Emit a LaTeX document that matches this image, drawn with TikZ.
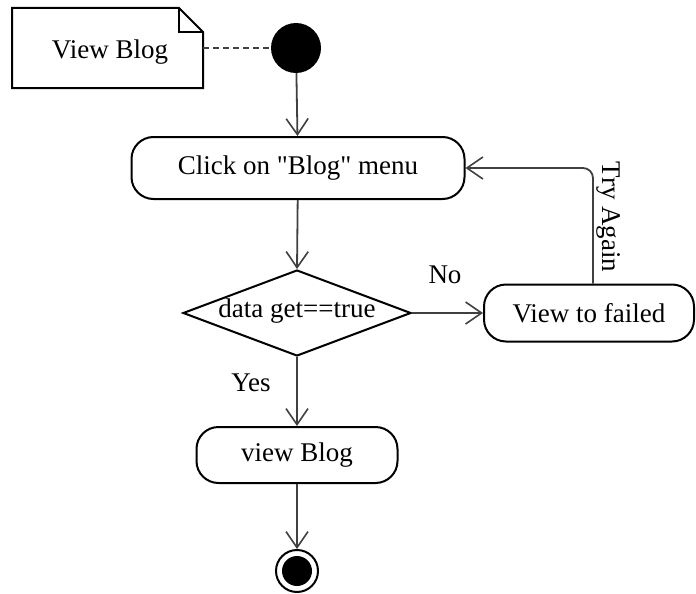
\documentclass[tikz,border=0pt]{standalone}
\usepackage{fontspec}
\setmainfont{Liberation Serif}
\usetikzlibrary{arrows.meta,shapes.geometric}
\begin{document}
\begin{tikzpicture}[x=1pt,y=-1pt,
  every node/.style={font=\fontsize{27}{32}\selectfont},
  act/.style={draw=black,line width=2pt,rounded corners=22pt,inner sep=0pt},
  flow/.style={draw=black!75,line width=1.8pt,-{Straight Barb[length=16pt,width=22pt,line width=1.6pt]}},
  lbl/.style={inner sep=0pt}]
\useasboundingbox (0,0) rectangle (696,594);
% note
\draw[line width=2pt] (12,8) -- (179,8) -- (203,32) -- (203,88) -- (12,88) -- cycle;
\draw[line width=1.5pt] (179,8) -- (179,32) -- (203,32);
\node[lbl] (note) at (110,52) {View Blog};
\coordinate (noteR) at (203,48);
% start
\node[circle,fill=black,minimum size=50pt,inner sep=0pt] (start) at (296,48) {};
\draw[dash pattern=on 6pt off 4pt,line width=1.8pt,black!75] (noteR) -- (start);
% click
\node[act,minimum width=333pt,minimum height=62pt] (click) at (298,168) {Click on \textquotedbl Blog\textquotedbl{} menu};
% decision
\node[diamond,draw=black,line width=2pt,minimum width=228pt,minimum height=86pt,aspect=2.65,inner sep=0pt] (dec) at (297,313) {};
\node[lbl] (dect) at (297,311) {data get==true};
% failed
\node[act,minimum width=210pt,minimum height=57pt] (fail) at (589,313) {View to failed};
% view blog
\node[act,minimum width=201pt,minimum height=56pt] (vb) at (297,455) {view Blog};
% end
\node[circle,draw=black,line width=2pt,minimum size=42pt,inner sep=0pt] (end) at (297,571) {};
\node[circle,fill=black,minimum size=30pt,inner sep=0pt] (endin) at (297,571) {};
% flows
\draw[flow] (start) -- (click);
\draw[flow] (click) -- (dec.north);
\draw[flow] (dec.east) -- (fail.west);
\draw[flow] (dec.south) -- (vb.north);
\draw[flow] (vb) -- (end);
\draw[flow,rounded corners=10pt] ([xshift=4pt]fail.north) |- (click.east);
% labels
\node[lbl] (no) at (445,275) {No};
\node[lbl] (yes) at (251,383) {Yes};
\node[lbl,rotate=-90] (try) at (609,217) {Try Again};
\end{tikzpicture}
\end{document}
